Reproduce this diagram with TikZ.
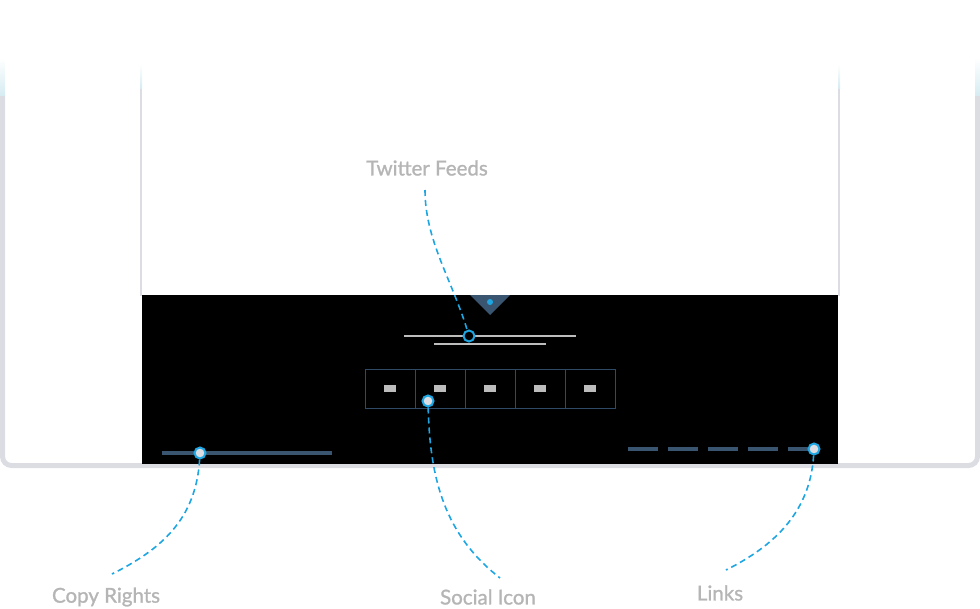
\documentclass[tikz,border=0pt]{standalone}
\usepackage{fontspec}
\setmainfont{Lato}
\newfontfamily\labfont[FakeBold=1.2]{Lato}
\definecolor{frame}{HTML}{DCDDE2}
\definecolor{fade}{HTML}{D6ECF2}
\definecolor{slate}{HTML}{3A5570}
\definecolor{boxc}{HTML}{2F4A66}
\definecolor{cyanc}{HTML}{1DA6E2}
\definecolor{lbl}{HTML}{B5B5B5}
\definecolor{light}{HTML}{BDBDBD}
\tikzset{
  lab/.style={font=\labfont\fontsize{20.5}{24}\selectfont, text=lbl, inner sep=0pt},
  marker/.style={circle, draw=cyanc, line width=2pt, fill=frame, inner sep=0pt, minimum size=11pt},
  conn/.style={cyanc, line width=1.6pt, dash pattern=on 6pt off 4pt},
  tick/.style={light, line width=2pt},
}
\begin{document}
\begin{tikzpicture}[x=1pt,y=-1pt]
\useasboundingbox (0,0) rectangle (980,608);
% outer frame
\draw[frame, line width=5pt, rounded corners=9pt] (2.5,95) -- (2.5,465.5) -- (977.5,465.5) -- (977.5,95);
\fill[top color=white, bottom color=fade] (0,58) rectangle (5,95);
\fill[top color=white, bottom color=fade] (975,58) rectangle (980,95);
% inner panel sides
\fill[frame] (140,88) rectangle (142,296);
\fill[frame] (838,88) rectangle (840,296);
\fill[top color=white, bottom color=fade] (140,64) rectangle (142,88);
\fill[top color=white, bottom color=fade] (838,64) rectangle (840,88);
% black footer
\fill[black] (142,295) rectangle (838,464);
% triangle
\fill[slate] (470,295) -- (510,295) -- (490,315) -- cycle;
\fill[cyanc] (490,302) circle (3);
% twitter lines
\draw[tick] (404,335.5) -- (576,335.5);
\draw[tick] (434,343.5) -- (546,343.5);
% social box
\foreach \i in {0,...,4}{
  \draw[boxc, line width=1pt] (365+50*\i,369.5) rectangle (415+50*\i,408);
  \fill[light] (384+50*\i,385) rectangle (396+50*\i,392);
}
% copyright line
\draw[slate, line width=3.5pt] (162,453) -- (332,453);
% links dashes
\foreach \i in {0,...,4}{
  \draw[slate, line width=4pt] (628+40*\i,448.5) -- (658+40*\i,448.5);
}
% markers
\node[marker, fill=black] (twm) at (469,336) {};
\node[marker] (sim) at (428,401) {};
\node[marker] (crm) at (200,453) {};
\node[marker] (lkm) at (814,449) {};
% labels
\node[lab] (tw) at (427,168) {Twitter Feeds};
\node[lab] (si) at (488,597) {Social Icon};
\node[lab] (cr) at (106,597) {Copy Rights};
\node[lab] (lk) at (720,593) {Links};
\coordinate (siend) at (500,578);
\coordinate (crend) at (112,574);
\coordinate (lkend) at (726,570);
% connectors
\draw[conn] (425,190) .. controls (425,240) and (452,280) .. (twm);
\draw[conn] (sim) .. controls (430,480) and (445,535) .. (siend);
\draw[conn] (crm) .. controls (196,520) and (160,550) .. (crend);
\draw[conn] (lkm) .. controls (810,515) and (770,548) .. (lkend);
\end{tikzpicture}
\end{document}
